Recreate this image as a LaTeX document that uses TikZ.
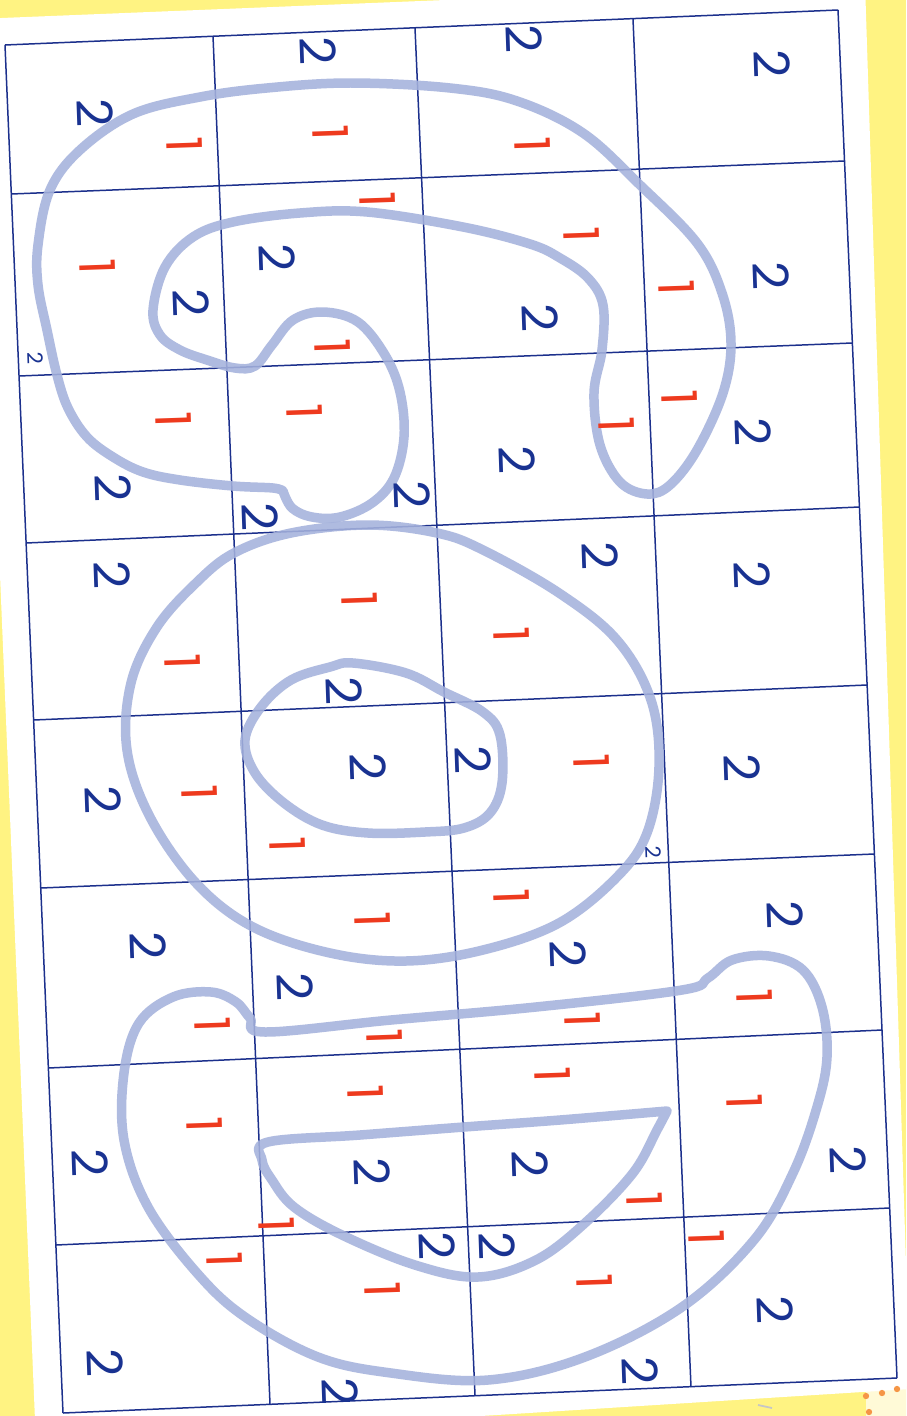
\documentclass[tikz,border=0pt]{standalone}
\usepackage{fontspec}
\newfontfamily\digitfont{Poppins}
\usepackage{tikz}
\definecolor{pageyellow}{RGB}{255,243,130}
\definecolor{paleyellow}{RGB}{255,250,215}
\definecolor{dotorange}{RGB}{245,150,70}
\definecolor{gridblue}{RGB}{28,48,140}
\definecolor{traceblue}{RGB}{165,178,220}
\definecolor{twoblue}{RGB}{25,50,145}
\definecolor{onered}{RGB}{238,58,30}

\begin{document}
\begin{tikzpicture}[x=0.02cm, y=-0.02cm,
	gridline/.style={draw=gridblue, line width=0.85pt},
	trace/.style={draw=traceblue, line width=0.19cm, line cap=round, line join=round, opacity=0.88},
	numtwo/.style={text=twoblue, font=\digitfont\fontsize{28}{28}\selectfont, rotate=-88, inner sep=0pt},
	numone/.style={numtwo, text=onered},
	tinytwo/.style={numtwo, font=\digitfont\fontsize{12}{12}\selectfont}]
	\useasboundingbox (0,0) rectangle (906,1416);
	\clip (0,0) rectangle (906,1416);
	\fill[pageyellow] (0,0) rectangle (906,1416);
	\fill[paleyellow] (866,1390) -- (906,1386) -- (906,1416) -- (866,1416) -- cycle;
	\fill[white] (-23,19) -- (865,-17) -- (910,1389) -- (36,1444) -- cycle;
	\foreach \x/\y in {866/1396, 882/1393, 897/1389, 869/1412}
		\fill[dotorange] (\x,\y) circle (1.8pt);
	\draw[gray!45, line width=1pt] (758,1405) -- (772,1408);
	\foreach \yl/\yr in {45/10,194/161,376/343,543/507,720/685,888/854,1068/1030,1245/1208,1413/1378}
		\draw[gridline] ({5+0.0424*(\yl-45)},\yl) -- ({838+0.0431*(\yr-10)},\yr);
	\foreach \xt/\yt/\xb/\yb in {5/45/63/1413,213/36/270/1404,415/28/475/1395,633/19/691/1387,838/10/897/1378}
		\draw[gridline] (\xt,\yt) -- (\xb,\yb);
	\draw[trace] plot[smooth, tension=0.6] coordinates {(283,491) (273,488) (233,486) (180,480) (143,472) (113,457) (87,437) (68,408) (57,375) (47,330) (38,285) (38,245) (50,190) (80,150) (133,114) (200,97) (267,88) (350,83) (450,88) (517,101) (583,133) (640,185) (697,243) (722,293) (731,343) (723,393) (697,450) (670,485) (647,494) (620,482) (600,445) (594,393) (602,350) (603,305) (588,278) (560,258) (530,244) (463,227) (367,212) (300,213) (233,222) (193,237) (165,267) (153,310) (160,335) (180,350) (207,360) (235,368) (255,366) (272,345) (293,320) (323,312) (358,322) (385,355) (400,392) (404,437) (394,478) (372,503) (340,517) (312,517) (292,508) (283,491)};
	\draw[trace] plot[smooth cycle, tension=0.6] coordinates {(368,525) (437,533) (483,550) (559,593) (617,640) (651,700) (659,767) (647,833) (617,877) (559,923) (483,950) (406,961) (330,953) (253,927) (196,883) (150,817) (127,750) (131,683) (157,627) (196,583) (234,553) (291,533)};
	\draw[trace] plot[smooth cycle, tension=0.6] coordinates {(353,663) (406,673) (444,692) (483,712) (500,735) (502,783) (490,813) (464,828) (425,832) (368,833) (322,825) (284,803) (255,773) (245,740) (261,707) (291,680) (330,667)};
	\draw[trace] plot[smooth cycle, tension=0.6] coordinates {(265,1032) (391,1020) (536,1007) (682,990) (708,978) (732,960) (769,956) (803,970) (822,1007) (827,1057) (817,1107) (793,1173) (754,1240) (682,1307) (585,1357) (488,1380) (391,1373) (318,1357) (245,1317) (197,1273) (148,1207) (124,1140) (124,1073) (139,1023) (173,997) (211,992) (236,1002) (250,1018)};
	\draw[trace] plot[smooth, tension=0.6] coordinates {(667,1111) (560,1120) (464,1127) (360,1135) (268,1142) (262,1160) (272,1180) (294,1207) (342,1235) (415,1265) (478,1277) (536,1260) (585,1223) (633,1173) (657,1130) (667,1111)};
	\begin{scope}
		\clip (5,45) -- (838,10) -- (897,1378) -- (63,1413) -- cycle;
		\foreach \x/\y [count=\k] in {95/113,318/51,524/39,772/64,277/258,191/303,540/318,771/276,113/488,260/517,412/495,517/460,753/432,112/575,600/556,752/575,344/691,103/800,368/767,473/760,742/768,148/946,295/987,568/954,785/915,90/1163,372/1172,530/1164,848/1160,437/1246,497/1246,775/1310,105/1363,340/1392,640/1371}
			\node[numtwo] (two\k) at (\x,\y) {2};
		\foreach \x/\y [count=\k] in {185/145,331/133,533/145,378/200,98/267,582/235,677/288,333/347,174/420,305/412,680/398,617/425,360/600,512/635,183/662,200/793,592/762,288/845,373/920,512/897,213/1025,385/1037,583/1020,755/997,366/1093,553/1075,205/1125,745/1102,645/1200,277/1225,707/1238,225/1260,383/1290,595/1282}
			\node[numone] (one\k) at (\x,\y) {1};
		\node[tinytwo] (tiny1) at (35,358) {2};
		\node[tinytwo] (tiny2) at (653,852) {2};
	\end{scope}
\end{tikzpicture}
\end{document}
